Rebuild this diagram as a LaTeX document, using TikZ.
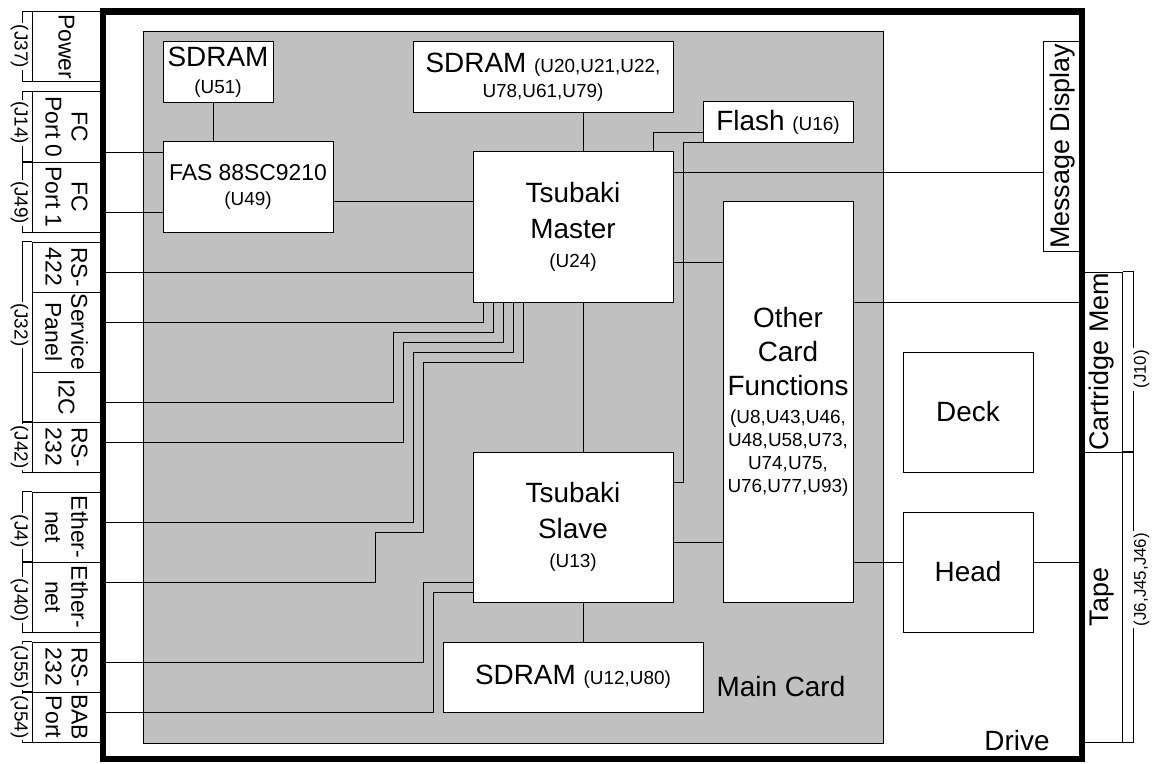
\documentclass[tikz,border=0pt]{standalone}
\usepackage{fontspec}
\setmainfont{Liberation Sans}
\usepackage{xcolor}
\usepackage{tikz}
\definecolor{cardgray}{RGB}{192,192,192}
\newcommand{\fntbig}{\fontsize{28}{33}\selectfont}
\newcommand{\fntplug}{\fontsize{27}{30}\selectfont}
\newcommand{\fntmid}{\fontsize{23}{26}\selectfont}
\newcommand{\fntsmall}{\fontsize{19}{23}\selectfont}
\newcommand{\fntref}{\fontsize{17}{20}\selectfont}
\newcommand{\pn}[1]{{\fntsmall #1}}

\begin{document}
\begin{tikzpicture}[x=1bp, y=-1bp, line width=1bp,
    chip/.style={rectangle, draw, fill=white, align=center, inner sep=0pt, font=\fntbig},
    jack/.style={rectangle, draw, fill=white, align=center, inner sep=0pt, rotate=-90, minimum height=67bp, font=\fntmid},
    plug/.style={rectangle, draw, fill=white, inner sep=0pt, rotate=90, minimum height=40bp, font=\fntplug},
    jref/.style={fill=white, inner sep=1.5bp, rotate=-90, font=\fntsmall},
    pref/.style={fill=white, inner sep=2bp, rotate=90, font=\fntref}]
    \useasboundingbox (0,0) rectangle (1154,764);
    \draw[fill=cardgray] (143,32) rectangle (883,743);

    \node[chip, minimum width=110bp, minimum height=60bp] (sdramfas) at (218,72) {SDRAM\\[-6pt]\pn{(U51)}};
    \node[chip, minimum width=170bp, minimum height=90bp, font=\fntmid] (fas) at (248,187) {FAS 88SC9210\\[0pt]\pn{(U49)}};
    \node[chip, minimum width=260bp, minimum height=70bp] (sdramtop) at (543,77) {SDRAM \pn{(U20,U21,U22,}\\[-8pt]\pn{U78,U61,U79)}};
    \node[chip, minimum width=150bp, minimum height=40bp] (flash) at (778,122) {Flash \pn{(U16)}};
    \node[chip, minimum width=200bp, minimum height=150bp] (master) at (573,227) {Tsubaki\\[3pt]Master\\[-4pt]\pn{(U24)}};
    \node[chip, minimum width=200bp, minimum height=150bp] (slave) at (573,527) {Tsubaki\\[3pt]Slave\\[-4pt]\pn{(U13)}};
    \node[chip, minimum width=260bp, minimum height=70bp] (sdrambot) at (573,677) {SDRAM \pn{(U12,U80)}};
    \node[chip, minimum width=130bp, minimum height=400bp] (other) at (788,402) {Other\\[1pt]Card\\[1pt]Functions\\[-5pt]\pn{(U8,U43,U46,}\\[-10pt]\pn{U48,U58,U73,}\\[-10pt]\pn{U74,U75,}\\[-10pt]\pn{U76,U77,U93)}};
    \node[chip, minimum width=130bp, minimum height=120bp] (deck) at (968,412) {Deck};
    \node[chip, minimum width=130bp, minimum height=120bp] (head) at (968,572) {Head};
    \node[font=\fntbig] (maincard) at (781,687) {Main Card};
    \node[font=\fntbig] (drive) at (1017,741) {Drive};

    \node[jack, minimum width=69bp] (power) at (66.5,46.5) {Power};
    \node[jack, minimum width=70bp] (fcport0) at (66.5,127) {FC\\Port 0};
    \node[jack, minimum width=70bp] (fcport1) at (66.5,197) {FC\\Port 1};
    \node[jack, minimum width=50bp] (rsf) at (66.5,267) {RS-\\422};
    \node[jack, minimum width=80bp] (service) at (66.5,332) {Service\\Panel};
    \node[jack, minimum width=50bp] (itwoc) at (66.5,397) {I2C};
    \node[jack, minimum width=50bp] (rsa) at (66.5,447) {RS-\\232};
    \node[jack, minimum width=70bp] (etha) at (66.5,527) {Ether-\\net};
    \node[jack, minimum width=70bp] (ethb) at (66.5,597) {Ether-\\net};
    \node[jack, minimum width=50bp] (rsb) at (66.5,667) {RS-\\232};
    \node[jack, minimum width=50bp] (bab) at (66.5,717) {BAB\\Port};

    \node[plug, minimum width=209bp, minimum height=39bp] (message) at (1062.5,146.5) {Message Display};
    \node[plug, minimum width=180bp] (cartridge) at (1102,362) {Cartridge Mem};
    \node[plug, minimum width=290bp] (tape) at (1102,597) {Tape};

    \draw (sdramfas.south -| 213,0) -- (fas.north -| 213,0);
    \draw (fas.east |- 0,201) -- (master.west |- 0,201);
    \draw (sdramtop.south -| 583,0) -- (master.north -| 583,0);
    \draw (master.south -| 583,0) -- (slave.north -| 583,0);
    \draw (slave.south -| 583,0) -- (sdrambot.north -| 583,0);
    \draw (flash.west |- 0,132) -| (master.north -| 653,0);
    \draw (flash.south west) -| (683,482) -- (slave.east |- 0,482);
    \draw (master.east |- 0,172) -- (message.north |- 0,172);
    \draw (master.east |- 0,262) -- (other.west |- 0,262);
    \draw (slave.east |- 0,542) -- (other.west |- 0,542);
    \draw (other.east |- 0,302) -- (cartridge.north |- 0,302);
    \draw (other.east |- 0,562) -- (head.west |- 0,562);
    \draw (head.east |- 0,562) -- (tape.north |- 0,562);

    \draw (fcport0.north |- 0,152) -- (fas.west |- 0,152);
    \draw (fcport1.north |- 0,212) -- (fas.west |- 0,212);
    \draw (rsf.north |- 0,272) -- (master.west |- 0,272);
    \draw (service.north |- 0,322) -| (master.south -| 483,0);
    \draw (itwoc.north |- 0,402) -| (393,332) -| (master.south -| 493,0);
    \draw (rsa.north |- 0,442) -| (403,342) -| (master.south -| 503,0);
    \draw (etha.north |- 0,522) -| (413,352) -| (master.south -| 513,0);
    \draw (ethb.north |- 0,582) -| (375,532) -| (423,362) -| (master.south -| 523,0);
    \draw (rsb.north |- 0,662) -| (423,582) -- (slave.west |- 0,582);
    \draw (bab.north |- 0,712) -| (433,592) -- (slave.west |- 0,592);

    \draw[line width=6.5bp] (103,11.5) rectangle (1082,759);

    \draw (power.south west) -- ++(-10,0) |- node[xshift=-3bp, jref, pos=.25] {(J37)} (power.south east);
    \draw (fcport0.south west) -- ++(-10,0) |- node[xshift=-3bp, jref, pos=.22] {(J14)} (fcport0.south east);
    \draw (fcport1.south west) -- ++(-10,0) |- node[xshift=-3bp, jref, pos=.29] {(J49)} (fcport1.south east);
    \draw (rsf.south west) -- ++(-10,0) |- node[xshift=-3bp, jref, pos=.23] {(J32)} (itwoc.south east);
    \draw (rsa.south west) -- ++(-10,0) |- node[xshift=-3bp, jref, pos=.25] {(J42)} (rsa.south east);
    \draw (etha.south west) -- ++(-10,0) |- node[xshift=-3bp, jref, pos=.28] {(J4)} (etha.south east);
    \draw (ethb.south west) -- ++(-10,0) |- node[xshift=-3bp, jref, pos=.27] {(J40)} (ethb.south east);
    \draw (rsb.south west) -- ++(-10,0) |- node[xshift=-3bp, jref, pos=.25] {(J55)} (rsb.south east);
    \draw (bab.south west) -- ++(-10,0) |- node[xshift=-3bp, jref, pos=.25] {(J54)} (bab.south east);
    \draw (cartridge.south east) -- ++(11,0) |- node[xshift=8bp, pref, pos=.27] {(J10)} (cartridge.south west);
    \draw (tape.south east) -- ++(11,0) |- node[xshift=8bp, pref, pos=.22] {(J6,J45,J46)} (tape.south west);
\end{tikzpicture}
\end{document}
